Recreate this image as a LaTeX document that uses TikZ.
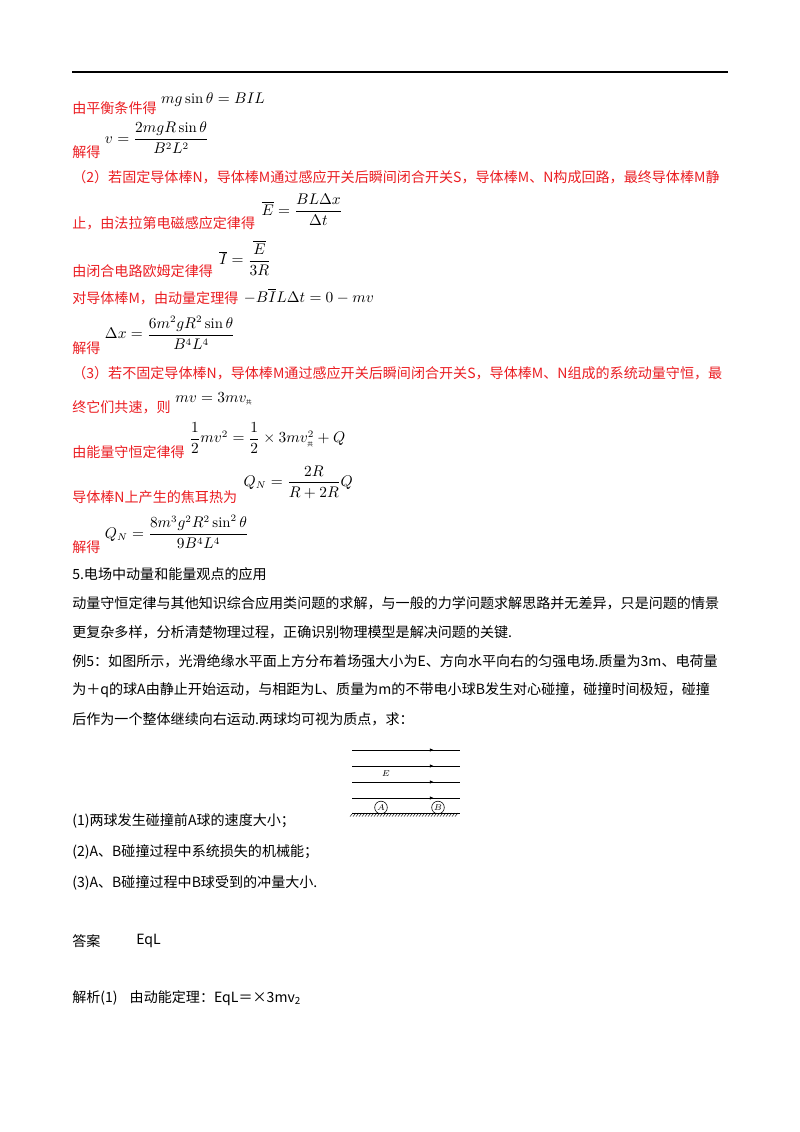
\documentclass[tikz,border=0pt]{standalone}
\usepackage{fontspec}
\usepackage{amsmath}
\newfontfamily\cjk{Noto Sans CJK SC}
\usetikzlibrary{arrows.meta,patterns,calc}
\definecolor{redtxt}{RGB}{235,30,35}
\XeTeXlinebreaklocale "zh"
\XeTeXlinebreakskip=0pt plus 2pt
\tikzset{
 txt/.style={anchor=west,inner sep=0pt,font=\cjk\fontsize{10}{12}\selectfont},
 rtxt/.style={txt,text=redtxt},
 fml/.style={anchor=west,inner sep=0pt,font=\fontsize{10.5}{12}\selectfont},
 fieldline/.style={line width=0.6pt},
}
\newcommand{\just}[1]{\makebox[16.4cm][s]{#1}}
\newcommand{\gong}{\text{\cjk\fontsize{4}{4}\selectfont 共}}
\begin{document}
\begin{tikzpicture}[x=0.025cm,y=-0.025cm]
\useasboundingbox[fill=white] (0,0) rectangle (800,1132);
\draw[line width=1.2pt] (72,72) -- (728,72);

\node[rtxt] (l1) at (72,108) {由平衡条件得};
\node[fml] (f1) at ($(l1.east)+(4,-8)$) {$mg\sin\theta=BIL$};
\node[rtxt] (l2) at (72,152) {解得};
\node[fml] (f2) at ($(l2.east)+(4,-14)$) {$v=\dfrac{2mgR\sin\theta}{B^2L^2}$};
\node[rtxt] (l3) at (72,177) {\just{（2）若固定导体棒N，导体棒M通过感应开关后瞬间闭合开关S，导体棒M、N构成回路，最终导体棒M静}};
\node[rtxt] (l4) at (72,223) {止，由法拉第电磁感应定律得};
\node[fml] (f4) at ($(l4.east)+(6,-13)$) {$\overline{E}=\dfrac{BL\Delta x}{\Delta t}$};
\node[rtxt] (l5) at (72,271) {由闭合电路欧姆定律得};
\node[fml] (f5) at ($(l5.east)+(6,-13)$) {$\overline{I}=\dfrac{\overline{E}}{3R}$};
\node[rtxt] (l6) at (72,298) {对导体棒M，由动量定理得};
\node[fml] (f6) at ($(l6.east)+(5,-2)$) {$-B\overline{I}L\Delta t=0-mv$};
\node[rtxt] (l7) at (72,348) {解得};
\node[fml] (f7) at ($(l7.east)+(4,-15)$) {$\Delta x=\dfrac{6m^2gR^2\sin\theta}{B^4L^4}$};
\node[rtxt] (l8) at (72,373) {\just{（3）若不固定导体棒N，导体棒M通过感应开关后瞬间闭合开关S，导体棒M、N组成的系统动量守恒，最}};
\node[rtxt] (l9) at (72,407) {终它们共速，则};
\node[fml] (f9) at ($(l9.east)+(4,-8)$) {$mv=3mv_{\gong}$};
\node[rtxt] (l10) at (72,452) {由能量守恒定律得};
\node[fml] (f10) at ($(l10.east)+(4,-14)$) {$\dfrac{1}{2}mv^2=\dfrac{1}{2}\times3mv_{\gong}^{2}+Q$};
\node[rtxt] (l11) at (72,497) {导体棒N上产生的焦耳热为};
\node[fml] (f11) at ($(l11.east)+(6,-15)$) {$Q_N=\dfrac{2R}{R+2R}Q$};
\node[rtxt] (l12) at (72,547) {解得};
\node[fml] (f12) at ($(l12.east)+(4,-15)$) {$Q_N=\dfrac{8m^3g^2R^2\sin^2\theta}{9B^4L^4}$};

\node[txt] (b1) at (72,574) {5.电场中动量和能量观点的应用};
\node[txt] (b2) at (72,603) {\just{动量守恒定律与其他知识综合应用类问题的求解，与一般的力学问题求解思路并无差异，只是问题的情景}};
\node[txt] (b3) at (72,632) {更复杂多样，分析清楚物理过程，正确识别物理模型是解决问题的关键.};
\node[txt] (b4) at (72,661) {\just{例5：如图所示，光滑绝缘水平面上方分布着场强大小为E、方向水平向右的匀强电场.质量为3m、电荷量}};
\node[txt] (b5) at (72,690) {\just{为＋q的球A由静止开始运动，与相距为L、质量为m的不带电小球B发生对心碰撞，碰撞时间极短，碰撞}};
\node[txt] (b6) at (72,719) {后作为一个整体继续向右运动.两球均可视为质点，求：};

% figure
\foreach \yy/\nm in {750/a,766/b,782/c,798/d}{
  \coordinate (s\nm) at (352,\yy);
  \coordinate (e\nm) at (460,\yy);
  \coordinate (m\nm) at (434,\yy);
  \draw[fieldline] (s\nm) -- (m\nm);
  \draw[fieldline] (m\nm) -- (e\nm);
  \draw[-{Latex[length=3pt,width=2.5pt]},line width=0.6pt] ($(m\nm)-(3,0)$) -- (m\nm);
}
\node[inner sep=0pt,font=\fontsize{6}{7}\selectfont\itshape] (E) at (386,774) {$E$};
\coordinate (g1) at (352,813);
\coordinate (g2) at (460,813);
\draw[line width=0.6pt] (g1) -- (g2);
\foreach \xx in {353,356,...,459}{\draw[line width=0.3pt] (\xx,813) -- (\xx-3,816.5);}
\node[draw,circle,inner sep=0pt,minimum size=9pt,line width=0.4pt,font=\fontsize{6}{6}\selectfont] (A) at (381,807.5) {$A$};
\node[draw,circle,inner sep=0pt,minimum size=9pt,line width=0.4pt,font=\fontsize{6}{6}\selectfont] (B) at (438,807.5) {$B$};

\node[txt] (q1) at (72,821) {(1)两球发生碰撞前A球的速度大小；};
\node[txt] (q2) at (72,852) {(2)A、B碰撞过程中系统损失的机械能；};
\node[txt] (q3) at (72,883) {(3)A、B碰撞过程中B球受到的冲量大小.};
\node[txt] (ans) at (72,941) {答案};
\node[txt] (ans2) at (136,941) {EqL};
\node[txt] (jx) at (72,998) {解析(1)\hspace{0.3cm}由动能定理：EqL＝×3mv\textsubscript{2}};
\end{tikzpicture}
\end{document}
